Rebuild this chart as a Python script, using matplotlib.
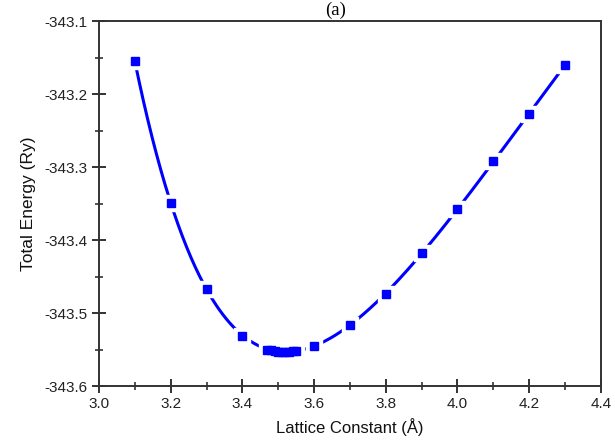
import numpy as np
import matplotlib
matplotlib.use("Agg")
import matplotlib.pyplot as plt
from matplotlib.ticker import MultipleLocator, FormatStrFormatter

lattice = [3.1, 3.2, 3.3, 3.4, 3.47, 3.48, 3.49, 3.50, 3.51, 3.52, 3.53, 3.54, 3.55,
           3.6, 3.7, 3.8, 3.9, 4.0, 4.1, 4.2, 4.3]
energy = [-343.155, -343.349, -343.467, -343.531, -343.550, -343.551, -343.552, -343.553,
          -343.553, -343.553, -343.553, -343.552, -343.552,
          -343.545, -343.516, -343.474, -343.418, -343.358, -343.292, -343.227, -343.160]

plt.rcParams['font.family'] = ['Liberation Sans', 'DejaVu Sans']

fig = plt.figure(figsize=(6.15, 4.41), dpi=100)
ax = fig.add_axes([0.161, 0.1247, 0.816, 0.8273])

x = np.array(lattice)
y = np.array(energy)
xc = x.mean()
coef = np.polyfit(x - xc, y, 6)
xs = np.linspace(x.min(), x.max(), 400)
ys = np.polyval(coef, xs - xc)

ax.plot(xs, ys, color='#0000ff', lw=2.2, zorder=2)
ax.plot(x, y, ls='none', marker='s', ms=12, color='white', mec='white', zorder=3)
ax.plot(x, y, ls='none', marker='s', ms=6.2, color='#0000ff', mec='#0000ff', zorder=4)

ax.set_xlim(3.0, 4.4)
ax.set_ylim(-343.6, -343.1)
ax.xaxis.set_major_locator(MultipleLocator(0.2))
ax.xaxis.set_minor_locator(MultipleLocator(0.1))
ax.yaxis.set_major_locator(MultipleLocator(0.1))
ax.yaxis.set_minor_locator(MultipleLocator(0.05))
ax.xaxis.set_major_formatter(FormatStrFormatter('%.1f'))
ax.yaxis.set_major_formatter(FormatStrFormatter('%.1f'))

for s in ax.spines.values():
    s.set_color('#333333')
    s.set_linewidth(1.4)
ax.tick_params(which='major', direction='inout', length=10, width=1.4, color='#333333',
               labelsize=11, labelcolor='#222222', top=False, right=False, pad=3)
ax.tick_params(which='minor', direction='inout', length=6, width=1.2, color='#333333',
               top=False, right=False)

ax.set_xlabel('Lattice Constant (Å)', fontsize=12, color='#111111', labelpad=5)
ax.set_ylabel('Total Energy (Ry)', fontsize=12.5, color='#111111', labelpad=6)
fig.text(0.546, 0.997, '(a)', family=['Liberation Serif'], fontsize=13.5, ha='center', va='top')

fig.savefig('out.png', dpi=100)
